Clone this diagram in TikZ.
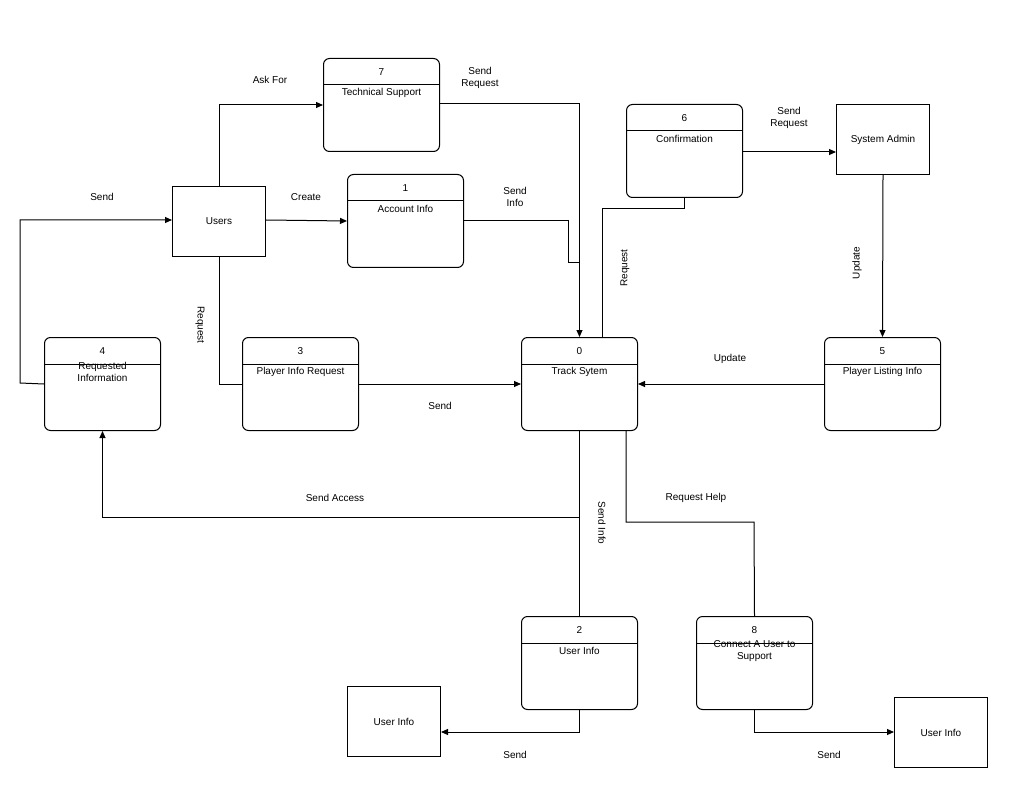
\documentclass[tikz,border=0pt]{standalone}
\usepackage{fontspec}
\setmainfont{Liberation Sans}
\usetikzlibrary{arrows.meta}
\begin{document}
\begin{tikzpicture}[x=1pt,y=-1pt,line width=1pt,
 proc/.style={draw,rounded corners=6pt,minimum width=116pt,minimum height=93pt,inner sep=0pt},
 ent/.style={draw,minimum width=93pt,minimum height=70pt,inner sep=0pt},
 lbl/.style={font=\fontsize{10}{12}\selectfont,align=center},
 arr/.style={-{Triangle[length=7pt,width=6pt]}}]
\useasboundingbox (0,0) rectangle (1024,791);
\newcommand{\proc}[5]{% name, x, y (top-left), number, text
 \node[proc,anchor=north west] (#1) at (#2,#3) {};
 \draw ([yshift=-27pt]#1.north west) -- ([yshift=-27pt]#1.north east);
 \node[lbl] (#1n) at ([yshift=-14pt]#1.north) {#4};
 \node[lbl] (#1t) at ([yshift=12pt]#1.center) {#5};}
\proc{p7}{323}{58}{7}{Technical Support}
\proc{p1}{347}{174}{1}{Account Info}
\proc{p6}{626}{104}{6}{Confirmation}
\proc{p0}{521}{337}{0}{Track Sytem}
\proc{p3}{242}{337}{3}{Player Info Request}
\proc{p4}{44}{337}{4}{Requested\\Information}
\proc{p5}{824}{337}{5}{Player Listing Info}
\proc{p2}{521}{616}{2}{User Info}
\proc{p8}{696}{616}{8}{Connect A User to\\Support}
\node[ent,anchor=north west,lbl] (users) at (172,186) {Users};
\node[ent,anchor=north west,lbl] (admin) at (836,104) {System Admin};
\node[ent,anchor=north west,lbl] (ui1) at (347,686) {User Info};
\node[ent,anchor=north west,lbl] (ui2) at (894,697) {User Info};
% connectors
\draw[arr] (users.north) |- (p7.west);
\draw[arr] (p7.east |- 0,104) -| (p0.north);
\draw (p1.east) -| (568,263) -- (579,263);
\draw[arr] (users.east |- 0,220) -- (p1.west);
\draw (p6.south) |- (602,209) -- (p0.north -| 602,0);
\draw[arr] (p6.east |- 0,152) -- (admin.west |- 0,152);
\draw[arr] (admin.south) -- (p5.north);
\draw[arr] (p5.west) -- (p0.west -| p0.east);
\draw[arr] (p3.east) -- (p0.west);
\draw (users.south) |- (p3.west);
\draw[arr] (p4.west) -- (20,383) |- (users.west |- 0,220);
\draw (p0.south) -- (p2.north);
\draw[arr] (579,517) -| (p4.south);
\draw (p0.south -| 626,0) |- (754,522) -- (p8.north);
\draw[arr] (p2.south) |- (ui1.east |- 0,732);
\draw[arr] (p8.south) |- (ui2.west |- 0,732);
% labels
\node[lbl] at (270,80) {Ask For};
\node[lbl] at (480,78) {Send\\Request};
\node[lbl] at (515,197) {Send\\Info};
\node[lbl] at (306,197) {Create};
\node[lbl,rotate=90] at (625,268) {Request};
\node[lbl] at (789,118) {Send\\Request};
\node[lbl,rotate=90] at (857,263) {Update};
\node[lbl] at (730,359) {Update};
\node[lbl] at (440,406) {Send};
\node[lbl,rotate=-90] at (200,325) {Request};
\node[lbl] at (102,197) {Send};
\node[lbl] at (335,498) {Send Access};
\node[lbl,rotate=-90] at (602,523) {Send Info};
\node[lbl] at (696,498) {Request Help};
\node[lbl] at (515,755) {Send};
\node[lbl] at (829,755) {Send};
\end{tikzpicture}
\end{document}
